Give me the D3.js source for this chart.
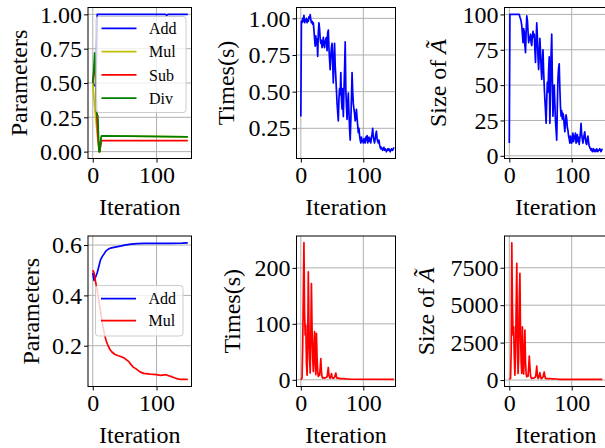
<!DOCTYPE html>
<html>
<head>
<meta charset="utf-8">
<script src="https://cdn.jsdelivr.net/npm/d3@7"></script>
<style>
    body { margin: 0; background: #fff; }
    svg, svg text { font-family: "Liberation Serif", "Times New Roman", Times, serif; }
</style>
</head>
<body>
<div id="chart"></div>
<script>
// ---------- Data ----------
const iterTicks = [0, 100]

// top row
const paramTicksTop = [0, 0.25, 0.5, 0.75, 1.0]
const timeTicksTop = [0.25, 0.5, 0.75, 1.0]
const sizeTicksTop = [0, 25, 50, 75, 100]

// [iteration, value]
const addTop = [[0, 0.50], [3, 0.48], [5, 0.48], [7, 1.0], [114, 1.0], [116, 0.993], [118, 1.0], [149, 1.0]]
const mulTop = [[0, 0.50], [3, 0.33], [6, 0.18], [8, 0.08], [10, 0.0], [11, 0.0], [13, 0.10], [14, 0.115], [149, 0.108]]
const subTop = [[0, 0.50], [1, 0.55], [3, 0.63], [4, 0.58], [6, 0.30], [8, 0.12], [10, 0.0], [11, 0.0], [13, 0.07], [14, 0.08], [149, 0.08]]
const divTop = [[0, 0.50], [1, 0.55], [3, 0.72], [4, 0.66], [6, 0.30], [7, 0.27], [8, 0.26], [9, 0.12], [10, 0.0], [11, 0.0], [13, 0.10], [14, 0.115], [60, 0.113], [149, 0.108]]

// one value per iteration (0..149)
const timesTop = [
    0.33, 0.98, 0.97, 1.00, 0.98, 1.02, 0.97, 0.99, 0.98, 1.00,
    0.97, 0.99, 0.98, 1.01, 1.00, 1.025, 0.99, 0.97, 0.98, 0.96,
    0.97, 0.92, 0.86, 0.81, 0.88, 0.82, 0.86, 0.74, 0.90, 0.97,
    0.93, 0.86, 0.83, 0.85, 0.80, 0.83, 0.87, 0.82, 0.80, 0.84,
    0.86, 0.87, 0.78, 0.90, 0.92, 0.80, 0.72, 0.65, 0.74, 0.80,
    0.83, 0.70, 0.56, 0.72, 0.83, 0.68, 0.60, 0.51, 0.42, 0.36,
    0.30, 0.45, 0.52, 0.48, 0.63, 0.45, 0.38, 0.52, 0.33, 0.50,
    0.65, 0.84, 0.52, 0.40, 0.31, 0.42, 0.49, 0.36, 0.25, 0.17,
    0.30, 0.45, 0.63, 0.50, 0.42, 0.38, 0.35, 0.30, 0.33, 0.38,
    0.32, 0.27, 0.22, 0.25, 0.20, 0.17, 0.15, 0.19, 0.16, 0.17,
    0.15, 0.18, 0.16, 0.15, 0.19, 0.17, 0.20, 0.15, 0.17, 0.19,
    0.16, 0.18, 0.15, 0.19, 0.21, 0.25, 0.19, 0.17, 0.15, 0.18,
    0.21, 0.23, 0.18, 0.16, 0.15, 0.17, 0.14, 0.12, 0.11, 0.12,
    0.11, 0.10, 0.11, 0.12, 0.10, 0.11, 0.10, 0.09, 0.10, 0.11,
    0.10, 0.11, 0.10, 0.09, 0.10, 0.11, 0.10, 0.10, 0.11, 0.12
]

const sizeTop = [
    9, 100, 100, 100, 100, 100, 100, 100, 100, 100,
    100, 100, 100, 100, 100, 100, 100, 98, 97, 95,
    92, 86, 80, 90, 88, 78, 73, 88, 99, 96,
    88, 80, 84, 82, 86, 80, 78, 85, 88, 84,
    86, 75, 66, 82, 94, 84, 70, 61, 72, 83,
    74, 62, 54, 66, 75, 60, 49, 40, 32, 23,
    40, 52, 45, 60, 70, 23, 45, 72, 86, 55,
    28, 40, 50, 37, 25, 18, 11, 35, 55, 62,
    65, 48, 35, 28, 32, 26, 30, 28, 22, 17,
    24, 29, 26, 20, 18, 14, 12, 9, 14, 11,
    9, 13, 16, 10, 14, 12, 16, 9, 12, 15,
    10, 13, 8, 12, 16, 23, 15, 12, 9, 12,
    15, 17, 12, 9, 8, 12, 14, 10, 7, 6,
    5, 4, 5, 3, 4, 5, 3, 4, 4, 3,
    5, 4, 3, 4, 4, 5, 4, 3, 4, 5
]

// bottom row
const paramTicksBottom = [0.2, 0.4, 0.6]
const timeTicksBottom = [0, 100, 200]
const sizeTicksBottom = [0, 2500, 5000, 7500]

const addBottom = [[0, 0.49], [2, 0.46], [4, 0.47], [7, 0.49], [10, 0.52], [12, 0.54], [15, 0.555], [18, 0.566], [21, 0.577], [24, 0.583], [28, 0.588], [33, 0.591], [39, 0.594], [45, 0.597], [50, 0.600], [55, 0.602], [60, 0.604], [70, 0.606], [80, 0.607], [100, 0.607], [120, 0.607], [140, 0.608], [149, 0.609]]
const mulBottom = [[0, 0.50], [2, 0.49], [4, 0.46], [7, 0.42], [10, 0.37], [12, 0.34], [15, 0.29], [18, 0.25], [21, 0.22], [24, 0.20], [27, 0.185], [30, 0.175], [35, 0.165], [40, 0.16], [45, 0.156], [50, 0.15], [56, 0.138], [60, 0.125], [64, 0.114], [68, 0.108], [72, 0.100], [76, 0.094], [80, 0.090], [90, 0.087], [100, 0.085], [106, 0.082], [112, 0.084], [116, 0.084], [120, 0.080], [127, 0.074], [132, 0.069], [137, 0.066], [149, 0.066]]

const timesBottom = [[0, 0], [2, 3], [3, 60], [5, 245], [6, 120], [7, 80], [8, 97], [9, 30], [10, 8], [11, 60], [12, 193], [13, 100], [14, 40], [15, 12], [16, 80], [17, 172], [18, 90], [19, 40], [20, 15], [21, 60], [22, 86], [23, 30], [24, 9], [25, 83], [26, 40], [27, 15], [28, 6], [29, 10], [30, 8], [31, 20], [32, 38], [33, 15], [34, 5], [35, 3], [36, 4], [38, 3], [40, 4], [42, 5], [44, 22], [45, 8], [46, 4], [47, 3], [48, 6], [49, 11], [50, 6], [51, 3], [52, 3], [54, 4], [55, 8], [56, 12], [57, 6], [58, 3], [60, 3], [63, 2], [68, 2], [73, 1.5], [80, 1], [149, 0.6]]
const sizeBottom = [[0, 45], [2, 110], [3, 2000], [4, 9170], [5, 5000], [6, 3000], [7, 3560], [8, 1500], [9, 330], [10, 1800], [11, 5000], [12, 7790], [13, 3000], [14, 445], [15, 1500], [16, 5500], [17, 7120], [18, 3000], [19, 1200], [20, 445], [21, 3560], [22, 1500], [23, 400], [24, 1800], [25, 3340], [26, 1200], [27, 400], [28, 220], [29, 300], [30, 250], [31, 800], [32, 1600], [33, 900], [34, 300], [35, 150], [36, 110], [38, 130], [40, 150], [42, 200], [43, 500], [44, 935], [45, 300], [46, 110], [47, 150], [48, 300], [49, 490], [50, 250], [51, 110], [52, 100], [54, 200], [55, 400], [56, 535], [57, 250], [58, 110], [60, 100], [65, 90], [70, 80], [76, 70], [80, 50], [149, 40]]

const colBlue = '#0000ff'
const colYellow = '#bfbf00'
const colRed = '#ff0000'
const colGreen = '#008000'

const toPairs = (values) => values.map((v, i) => [i, v])

// ---------- Layout ----------
const panels = [
    {
        id: 'p1', left: 88, right: 191.5, top: 7.5, bottom: 158.5,
        xDomain: [-7.45, 154.8], yDomain: [-0.05, 1.05],
        yTicks: paramTicksTop, yFormat: d3.format('.2f'),
        yLabel: 'Parameters', labelX: 27,
        series: [
            { name: 'Add', color: colBlue, values: addTop },
            { name: 'Mul', color: colYellow, values: mulTop },
            { name: 'Sub', color: colRed, values: subTop },
            { name: 'Div', color: colGreen, values: divTop }
        ],
        legend: { x: 96, y: 16.5, w: 90, h: 96, first: 28.3, step: 23.3 }
    },
    {
        id: 'p2', left: 296.5, right: 395.5, top: 7.5, bottom: 158.5,
        xDomain: [-6.9, 151.5], yDomain: [0.044, 1.074],
        yTicks: timeTicksTop, yFormat: d3.format('.2f'),
        yLabel: 'Times(s)', labelX: 234,
        series: [{ name: 'Time', color: colBlue, values: toPairs(timesTop) }]
    },
    {
        id: 'p3', left: 504.5, right: 607, top: 7.5, bottom: 158.5,
        xDomain: [-7.7, 156.6], yDomain: [-1.9, 104.9],
        yTicks: sizeTicksTop, yFormat: d3.format('d'),
        yLabel: 'size', labelX: 446,
        series: [{ name: 'Size', color: colBlue, values: toPairs(sizeTop) }]
    },
    {
        id: 'p4', left: 88, right: 191.5, top: 236, bottom: 386.5,
        xDomain: [-7.45, 154.8], yDomain: [0.038, 0.636],
        yTicks: paramTicksBottom, yFormat: d3.format('.1f'),
        yLabel: 'Parameters', labelX: 39,
        series: [
            { name: 'Add', color: colBlue, values: addBottom },
            { name: 'Mul', color: colRed, values: mulBottom }
        ],
        legend: { x: 95.5, y: 285.5, w: 87.5, h: 50.5, first: 298.7, step: 22 }
    },
    {
        id: 'p5', left: 296.5, right: 395.5, top: 236, bottom: 386.5,
        xDomain: [-6.9, 151.5], yDomain: [-12, 257],
        yTicks: timeTicksBottom, yFormat: d3.format('d'),
        yLabel: 'Times(s)', labelX: 240,
        series: [{ name: 'Time', color: colRed, values: timesBottom }]
    },
    {
        id: 'p6', left: 504.5, right: 607, top: 236, bottom: 386.5,
        xDomain: [-7.7, 156.6], yDomain: [-430, 9620],
        yTicks: sizeTicksBottom, yFormat: d3.format('d'),
        yLabel: 'size', labelX: 434,
        series: [{ name: 'Size', color: colRed, values: sizeBottom }]
    }
]

// ---------- Drawing ----------
const serif = '"Liberation Serif", "Times New Roman", Times, serif'

const svg = d3.select('#chart')
    .append('svg')
    .attr('width', 605)
    .attr('height', 448)
    .attr('font-family', serif)

const drawPanel = (p) => {
    const xScale = d3.scaleLinear().domain(p.xDomain).range([p.left, p.right])
    const yScale = d3.scaleLinear().domain(p.yDomain).range([p.bottom, p.top])
    const g = svg.append('g')

    g.append('clipPath').attr('id', 'clip-' + p.id)
        .append('rect')
        .attr('x', p.left).attr('y', p.top)
        .attr('width', p.right - p.left).attr('height', p.bottom - p.top)

    // grid
    g.append('g').selectAll('line')
        .data(iterTicks)
        .enter()
        .append('line')
        .attr('x1', d => xScale(d)).attr('x2', d => xScale(d))
        .attr('y1', p.top).attr('y2', p.bottom)
        .attr('stroke', '#b0b0b0').attr('stroke-width', 1)

    g.append('g').selectAll('line')
        .data(p.yTicks)
        .enter()
        .append('line')
        .attr('x1', p.left).attr('x2', p.right)
        .attr('y1', d => yScale(d)).attr('y2', d => yScale(d))
        .attr('stroke', '#b0b0b0').attr('stroke-width', 1)

    // lines
    const line = d3.line()
        .x(d => xScale(d[0]))
        .y(d => yScale(d[1]))

    g.append('g').attr('clip-path', 'url(#clip-' + p.id + ')')
        .selectAll('path')
        .data(p.series)
        .enter()
        .append('path')
        .attr('d', s => line(s.values))
        .attr('fill', 'none')
        .attr('stroke', s => s.color)
        .attr('stroke-width', 1.7)
        .attr('stroke-linejoin', 'round')

    // legend
    if (p.legend) {
        const L = p.legend
        const lg = g.append('g')
        lg.append('rect')
            .attr('x', L.x).attr('y', L.y).attr('width', L.w).attr('height', L.h)
            .attr('rx', 3)
            .attr('fill', '#fff').attr('fill-opacity', 0.8)
            .attr('stroke', '#cccccc').attr('stroke-width', 1)
        p.series.forEach((s, i) => {
            const ly = L.first + i * L.step
            lg.append('line')
                .attr('x1', L.x + 5.5).attr('x2', L.x + 40.5)
                .attr('y1', ly).attr('y2', ly)
                .attr('stroke', s.color).attr('stroke-width', 1.7)
            lg.append('text')
                .attr('x', L.x + 53).attr('y', ly)
                .attr('dy', '0.35em')
                .attr('font-size', 16)
                .text(s.name)
        })
    }

    // frame
    g.append('rect')
        .attr('x', p.left).attr('y', p.top)
        .attr('width', p.right - p.left).attr('height', p.bottom - p.top)
        .attr('fill', 'none').attr('stroke', '#000').attr('stroke-width', 1)

    // axes
    const xAxis = d3.axisBottom(xScale).tickValues(iterTicks).tickSize(4).tickPadding(3).tickFormat(d3.format('d'))
    g.append('g')
        .attr('transform', 'translate(0,' + p.bottom + ')')
        .call(xAxis)
        .attr('font-size', 24).attr('font-family', serif)
        .call(a => a.select('.domain').remove())

    const yAxis = d3.axisLeft(yScale).tickValues(p.yTicks).tickSize(4).tickPadding(2).tickFormat(p.yFormat)
    g.append('g')
        .attr('transform', 'translate(' + p.left + ',0)')
        .call(yAxis)
        .attr('font-size', 24).attr('font-family', serif)
        .call(a => a.select('.domain').remove())

    // x label
    g.append('text')
        .attr('x', (p.left + Math.min(p.right, 607)) / 2)
        .attr('y', p.bottom + 56)
        .attr('text-anchor', 'middle')
        .attr('font-size', 24)
        .text('Iteration')

    // y label
    const yl = g.append('text')
        .attr('transform', 'translate(' + p.labelX + ',' + (p.top + p.bottom) / 2 + ') rotate(-90)')
        .attr('text-anchor', 'middle')
        .attr('font-size', 24)
    if (p.yLabel === 'size') {
        yl.append('tspan').text('Size of ')
        yl.append('tspan').attr('font-style', 'italic').text('Ã')
    } else {
        yl.text(p.yLabel)
    }
}

panels.forEach(drawPanel)
</script>
</body>
</html>
